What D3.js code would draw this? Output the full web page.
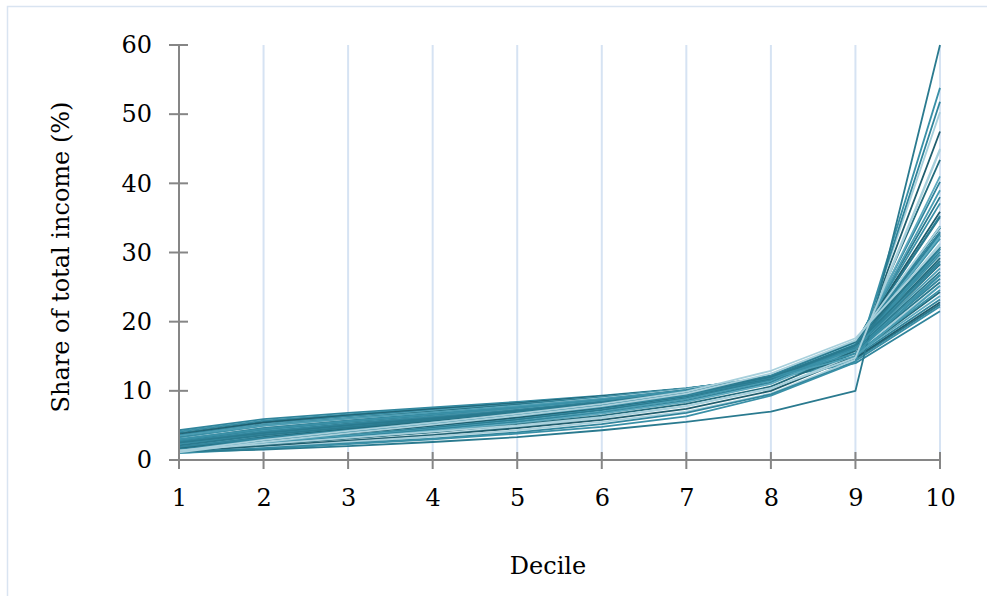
<!DOCTYPE html>
<html>
<head>
<meta charset="utf-8">
<script src="https://cdn.jsdelivr.net/npm/d3@7"></script>
<style>
  html, body { margin: 0; padding: 0; background: #fff; }
  svg { display: block; }
  text { font-family: "DejaVu Serif", "Liberation Serif", serif; fill: #000; }
</style>
</head>
<body>
<svg id="chart" width="987" height="596"></svg>
<script>
// ---- data ----
const deciles = [1, 2, 3, 4, 5, 6, 7, 8, 9, 10];
const yTicks = [0, 10, 20, 30, 40, 50, 60];
const xLabel = "Decile";
const yLabel = "Share of total income (%)";

// income share by decile (%), one row per country
const shares = [
  [4.3, 5.9, 6.8, 7.6, 8.4, 9.3, 10.4, 11.8, 14.0, 21.5],
  [4.1, 5.7, 6.6, 7.5, 8.3, 9.2, 10.3, 11.8, 14.3, 22.2],
  [3.9, 5.5, 6.5, 7.4, 8.2, 9.2, 10.3, 11.9, 14.6, 22.5],
  [3.7, 5.4, 6.4, 7.3, 8.2, 9.2, 10.3, 11.9, 14.8, 22.8],
  [3.6, 5.2, 6.3, 7.2, 8.1, 9.1, 10.3, 12.0, 15.0, 23.2],
  [3.4, 5.1, 6.1, 7.1, 8.0, 9.1, 10.3, 12.0, 15.2, 23.7],
  [3.3, 5.0, 6.0, 7.0, 8.0, 9.0, 10.2, 11.9, 15.3, 24.3],
  [3.2, 4.9, 5.9, 6.9, 7.9, 9.0, 10.2, 12.0, 15.4, 24.6],
  [3.0, 4.7, 5.8, 6.8, 7.8, 8.9, 10.2, 12.0, 15.6, 25.2],
  [2.9, 4.6, 5.7, 6.7, 7.7, 8.8, 10.1, 12.0, 15.8, 25.7],
  [2.8, 4.5, 5.6, 6.6, 7.6, 8.7, 10.1, 12.0, 15.9, 26.2],
  [2.7, 4.4, 5.5, 6.5, 7.5, 8.7, 10.0, 11.9, 16.0, 26.8],
  [2.6, 4.3, 5.4, 6.4, 7.5, 8.6, 10.0, 11.9, 16.1, 27.2],
  [2.5, 4.2, 5.3, 6.3, 7.4, 8.6, 9.9, 11.9, 16.2, 27.7],
  [2.4, 4.0, 5.2, 6.2, 7.3, 8.5, 9.9, 11.9, 16.3, 28.3],
  [2.3, 3.9, 5.1, 6.2, 7.3, 8.5, 9.9, 11.9, 16.3, 28.6],
  [2.2, 3.8, 5.0, 6.1, 7.2, 8.4, 9.8, 11.9, 16.4, 29.2],
  [2.1, 3.7, 4.9, 6.0, 7.1, 8.3, 9.8, 11.9, 16.5, 29.7],
  [2.0, 3.6, 4.8, 5.9, 7.0, 8.3, 9.8, 11.9, 16.6, 30.1],
  [1.9, 3.5, 4.7, 5.8, 6.9, 8.2, 9.7, 11.9, 16.6, 30.8],
  [1.8, 3.4, 4.6, 5.7, 6.8, 8.1, 9.7, 11.9, 16.7, 31.3],
  [1.7, 3.2, 4.4, 5.6, 6.7, 8.1, 9.6, 11.9, 16.8, 32.0],
  [1.6, 3.1, 4.3, 5.5, 6.7, 8.0, 9.6, 11.8, 16.8, 32.6],
  [1.9, 3.3, 4.4, 5.5, 6.6, 7.9, 9.5, 11.8, 16.7, 32.4],
  [1.5, 3.0, 4.2, 5.4, 6.6, 8.0, 9.6, 11.8, 16.9, 33.0],
  [2.2, 3.5, 4.6, 5.6, 6.6, 7.8, 9.3, 11.5, 16.5, 32.4],
  [1.4, 2.9, 4.1, 5.3, 6.5, 7.9, 9.5, 11.8, 17.0, 33.6],
  [1.8, 3.1, 4.2, 5.3, 6.4, 7.7, 9.3, 11.6, 16.8, 33.8],
  [1.6, 2.8, 3.9, 5.0, 6.2, 7.5, 9.2, 11.6, 16.9, 35.3],
  [1.3, 2.7, 3.9, 5.1, 6.3, 7.7, 9.4, 11.8, 16.9, 35.1],
  [1.5, 2.7, 3.8, 4.9, 6.1, 7.4, 9.1, 11.6, 17.0, 35.9],
  [1.4, 2.6, 3.6, 4.7, 5.9, 7.3, 9.0, 11.5, 16.9, 37.1],
  [1.2, 2.4, 3.5, 4.6, 5.8, 7.2, 8.9, 11.5, 16.9, 38.0],
  [1.3, 2.5, 3.5, 4.5, 5.6, 7.0, 8.8, 11.4, 16.4, 39.0],
  [1.2, 2.3, 3.3, 4.4, 5.5, 6.8, 8.6, 11.2, 16.5, 40.2],
  [1.1, 2.2, 3.2, 4.2, 5.3, 6.7, 8.4, 11.0, 16.1, 41.0],
  [1.3, 2.2, 3.1, 4.0, 5.1, 6.4, 8.1, 10.6, 15.8, 43.4],
  [1.0, 1.9, 2.8, 3.7, 4.8, 6.1, 7.8, 10.3, 15.2, 45.0],
  [1.1, 2.0, 2.8, 3.6, 4.6, 5.8, 7.4, 10.0, 15.0, 47.5],
  [1.0, 1.8, 2.6, 3.4, 4.3, 5.5, 7.0, 9.6, 14.5, 50.3],
  [1.2, 1.7, 2.4, 3.1, 4.0, 5.2, 6.8, 9.5, 14.2, 51.8],
  [1.0, 1.6, 2.3, 3.0, 3.8, 4.8, 6.3, 9.3, 14.1, 53.8],
  [1.2, 1.5, 2.0, 2.6, 3.3, 4.3, 5.5, 7.0, 10.0, 60.0],
  [3.5, 5.0, 6.0, 6.9, 7.8, 8.8, 10.0, 11.8, 15.0, 25.2],
  [2.6, 4.1, 5.2, 6.2, 7.2, 8.4, 9.8, 11.9, 16.2, 28.4],
  [2.0, 3.4, 4.6, 5.7, 6.9, 8.2, 9.8, 12.1, 16.8, 30.5],
  [1.7, 3.3, 4.5, 5.7, 6.9, 8.2, 9.8, 12.2, 17.1, 30.6],
  [2.4, 3.8, 4.9, 5.9, 7.0, 8.2, 9.6, 11.7, 16.0, 30.5],
  [1.9, 3.2, 4.3, 5.3, 6.4, 7.7, 9.3, 11.7, 16.6, 33.6],
  [2.1, 3.6, 4.7, 5.8, 6.9, 8.1, 9.6, 11.8, 16.6, 30.8],
  [1.5, 2.9, 4.1, 5.3, 6.5, 7.9, 9.6, 12.2, 17.2, 32.8],
  [3.0, 4.5, 5.6, 6.6, 7.6, 8.7, 10.0, 11.9, 15.4, 26.7],
  [2.5, 3.9, 5.0, 6.0, 7.1, 8.3, 9.8, 12.0, 16.6, 28.8],
  [1.1, 2.6, 3.9, 5.1, 6.4, 7.8, 9.6, 12.5, 17.3, 33.7],
  [1.3, 2.9, 4.2, 5.4, 6.7, 8.1, 9.9, 12.9, 17.6, 31.0],
  [1.4, 2.3, 3.2, 4.1, 5.0, 6.2, 7.8, 10.4, 14.8, 44.8]
];

// ---- styling (kept apart from data) ----
const palette = ["#31859c", "#3a90a7", "#2a7a8f", "#4b9db3", "#1f5d6d", "#a8d0dc", "#5eaabf", "#236b7c"];
const lightRows = [37, 39, 53, 54, 55, 20, 8];
const darkRows = [38, 22, 14, 30, 3];
function lineColor(i) {
  if (lightRows.includes(i)) return palette[5];
  if (darkRows.includes(i)) return palette[4];
  const base = [0, 1, 2, 3, 0, 6, 7, 1, 0, 2];
  return palette[base[i % base.length]];
}

// ---- drawing ----
const svg = d3.select("#chart");
const margin = { left: 179, right: 47, top: 45, bottom: 136 };
const W = 987, H = 596;

// outer frame
svg.append("rect")
  .attr("x", 7.5).attr("y", 6.5)
  .attr("width", 1000).attr("height", 620)
  .attr("fill", "none").attr("stroke", "#d9e4f1").attr("stroke-width", 1.5);

const x = d3.scaleLinear().domain([1, 10]).range([margin.left, W - margin.right]);
const y = d3.scaleLinear().domain([0, 60]).range([H - margin.bottom, margin.top]);

// vertical gridlines
svg.append("g").selectAll("line")
  .data(deciles.slice(1))
  .join("line")
  .attr("x1", d => x(d)).attr("x2", d => x(d))
  .attr("y1", y(60)).attr("y2", y(0))
  .attr("stroke", "#d6e3f3").attr("stroke-width", 2);

// lines
const line = d3.line()
  .x((d, i) => x(deciles[i]))
  .y(d => y(d));

svg.append("g").selectAll("path")
  .data(shares)
  .join("path")
  .attr("d", d => line(d))
  .attr("fill", "none")
  .attr("stroke", (d, i) => lineColor(i))
  .attr("stroke-width", 1.8)
  .attr("stroke-linejoin", "round");

// axes
const axisColor = "#868686";
const yAxis = svg.append("g").attr("transform", `translate(${x(1)},0)`)
  .call(d3.axisLeft(y).tickValues(yTicks).tickSize(0).tickPadding(27).tickFormat(d3.format("d")));
yAxis.select(".domain").remove();
yAxis.selectAll("text").attr("font-size", 24).attr("font-family", "DejaVu Serif");
yAxis.append("line").attr("x1", 0).attr("x2", 0).attr("y1", y(60)).attr("y2", y(0))
  .attr("stroke", axisColor).attr("stroke-width", 2);
yAxis.selectAll(".ytk").data(yTicks).join("line").attr("class", "ytk")
  .attr("x1", -10).attr("x2", 9).attr("y1", d => y(d)).attr("y2", d => y(d))
  .attr("stroke", axisColor).attr("stroke-width", 2);

const xAxis = svg.append("g").attr("transform", `translate(0,${y(0)})`)
  .call(d3.axisBottom(x).tickValues(deciles).tickSize(0).tickPadding(29).tickFormat(d3.format("d")));
xAxis.select(".domain").remove();
xAxis.selectAll("text").attr("font-size", 24).attr("font-family", "DejaVu Serif");
xAxis.append("line").attr("x1", x(1) - 10).attr("x2", x(10)).attr("y1", 0).attr("y2", 0)
  .attr("stroke", axisColor).attr("stroke-width", 2);
xAxis.selectAll(".xtk").data(deciles).join("line").attr("class", "xtk")
  .attr("x1", d => x(d)).attr("x2", d => x(d)).attr("y1", -8).attr("y2", 9)
  .attr("stroke", axisColor).attr("stroke-width", 2);

// axis titles
svg.append("text")
  .attr("x", 548).attr("y", 574)
  .attr("text-anchor", "middle")
  .attr("font-size", 24)
  .text(xLabel);

svg.append("text")
  .attr("transform", `translate(69,257) rotate(-90)`)
  .attr("text-anchor", "middle")
  .attr("font-size", 24)
  .text(yLabel);
</script>
</body>
</html>
